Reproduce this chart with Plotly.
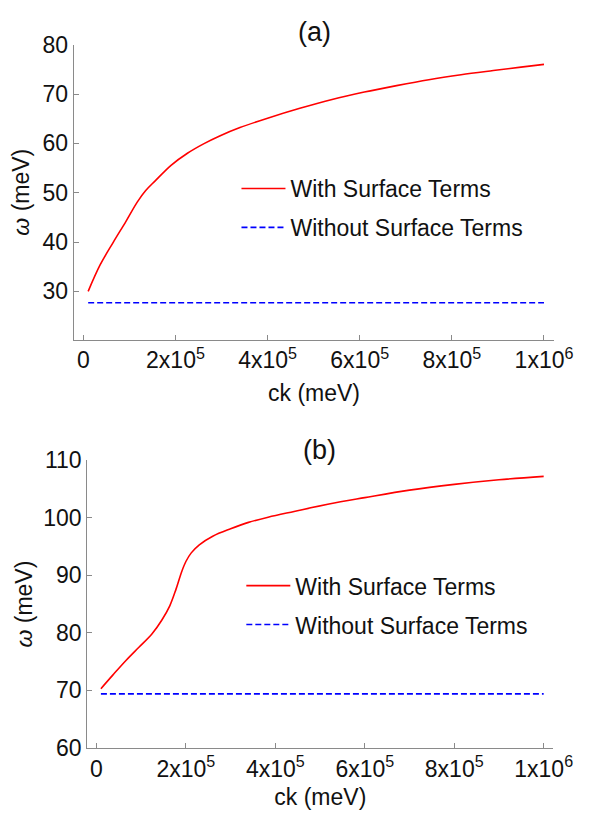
import plotly.graph_objects as go

W, H = 616, 830

# Panel (a): dispersion with / without surface terms
ck_a = [1.05e4, 3.64e4, 6.46e4, 9.26e4, 1.17e5, 1.35e5, 1.56e5, 1.91e5, 2.26e5,
        2.61e5, 2.96e5, 3.4e5, 4.0e5, 4.7e5, 5.4e5, 6.1e5, 6.8e5, 7.5e5,
        8.2e5, 8.9e5, 9.5e5, 1.0e6]
w_a = [30.0, 35.35, 39.9, 44.2, 48.1, 50.4, 52.4, 55.6, 58.0,
       59.9, 61.5, 63.2, 65.1, 67.1, 68.9, 70.4, 71.7, 72.9,
       73.9, 74.75, 75.45, 76.0]
ck_a_flat = [1.05e4, 1.0e6]
w_a_flat = [27.7, 27.7]

# Panel (b)
ck_b = [1.0e4, 3.7e4, 6.6e4, 9.5e4, 1.24e5, 1.46e5, 1.64e5, 1.78e5, 1.9e5,
        2.0e5, 2.12e5, 2.3e5, 2.6e5, 3.0e5, 3.4e5, 3.84e5, 4.42e5, 5.2e5,
        6.0e5, 7.0e5, 8.0e5, 9.0e5, 1.0e6]
w_b = [70.3, 72.7, 75.2, 77.5, 79.8, 82.2, 84.7, 87.6, 90.5,
       92.4, 93.9, 95.3, 96.8, 98.1, 99.2, 100.1, 101.1, 102.4,
       103.5, 104.8, 105.8, 106.6, 107.2]
ck_b_flat = [1.0e4, 1.0e6]
w_b_flat = [69.4, 69.4]

x_tickvals = [0, 2e5, 4e5, 6e5, 8e5, 1e6]
x_ticktext = ["0", "2x10<sup>5</sup>", "4x10<sup>5</sup>", "6x10<sup>5</sup>",
              "8x10<sup>5</sup>", "1x10<sup>6</sup>"]
ya_ticks = [30, 40, 50, 60, 70, 80]
yb_ticks = [60, 70, 80, 90, 100, 110]

label_with = "With Surface Terms"
label_without = "Without Surface Terms"

FONT = "Liberation Sans, Arial, Helvetica, sans-serif"
AXIS_GREY = "#8a8a8a"
RED = "#ff0000"
BLUE = "#0000ff"

fig = go.Figure()

fig.add_trace(go.Scatter(x=ck_a, y=w_a, mode="lines", name=label_with,
                         line=dict(color=RED, width=1.6, shape="spline", smoothing=1.0),
                         xaxis="x", yaxis="y", legend="legend", legendgroup="a1"))
fig.add_trace(go.Scatter(x=ck_a_flat, y=w_a_flat, mode="lines", name=label_without,
                         line=dict(color=BLUE, width=1.6, dash="6px,3px"),
                         xaxis="x", yaxis="y", legend="legend", legendgroup="a2"))
fig.add_trace(go.Scatter(x=ck_b, y=w_b, mode="lines", name=label_with,
                         line=dict(color=RED, width=1.6, shape="spline", smoothing=1.0),
                         xaxis="x2", yaxis="y2", legend="legend2", legendgroup="b1"))
fig.add_trace(go.Scatter(x=ck_b_flat, y=w_b_flat, mode="lines", name=label_without,
                         line=dict(color=BLUE, width=1.6, dash="6px,3px"),
                         xaxis="x2", yaxis="y2", legend="legend2", legendgroup="b2"))


def px_x(p):
    return p / W


def px_y(p):
    return 1 - p / H


common_axis = dict(showline=True, linecolor=AXIS_GREY, linewidth=1,
                   ticks="inside", ticklen=5, tickcolor=AXIS_GREY, tickwidth=1,
                   showgrid=False, zeroline=False, mirror=False,
                   tickfont=dict(family=FONT, size=23, color="#111"))

title_font = dict(family=FONT, size=23, color="#111")
legend_font = dict(family=FONT, size=23, color="#111")

fig.update_layout(
    width=W, height=H,
    margin=dict(l=0, r=0, t=0, b=0),
    paper_bgcolor="white", plot_bgcolor="white",
    font=dict(family=FONT, size=23, color="#111"),
    xaxis=dict(domain=[px_x(76), px_x(572)], anchor="y",
               range=[-2.1e4, 1.0225e6], tickvals=x_tickvals, ticktext=x_ticktext,
               title=dict(text="ck (meV)", font=title_font, standoff=12),
               **common_axis),
    yaxis=dict(domain=[px_y(337.3), px_y(32.7)], anchor="x",
               range=[20.2, 80], tickvals=ya_ticks,
               title=dict(text="<i>ω</i> (meV)", font=title_font, standoff=6),
               **common_axis),
    xaxis2=dict(domain=[px_x(90), px_x(571)], anchor="y2",
                range=[-2.06e4, 1.0217e6], tickvals=x_tickvals, ticktext=x_ticktext,
                title=dict(text="ck (meV)", font=title_font, standoff=8),
                **common_axis),
    yaxis2=dict(domain=[px_y(758.7), px_y(461.7)], anchor="x2",
                range=[60, 110], tickvals=yb_ticks,
                title=dict(text="<i>ω</i> (meV)", font=title_font, standoff=4),
                **common_axis),
    legend=dict(x=px_x(244), y=px_y(159), xanchor="left", yanchor="top",
                bgcolor="rgba(0,0,0,0)", tracegroupgap=6, itemwidth=44,
                font=legend_font),
    legend2=dict(x=px_x(249), y=px_y(569), xanchor="left", yanchor="top",
                 bgcolor="rgba(0,0,0,0)", tracegroupgap=6, itemwidth=44,
                 font=legend_font),
    annotations=[
        dict(text="(a)", x=px_x(325), y=px_y(20), xref="paper", yref="paper",
             showarrow=False, font=dict(family=FONT, size=27, color="#111"),
             xanchor="center", yanchor="middle"),
        dict(text="(b)", x=px_x(330), y=px_y(451), xref="paper", yref="paper",
             showarrow=False, font=dict(family=FONT, size=27, color="#111"),
             xanchor="center", yanchor="middle"),
    ],
)

fig.write_html("out.html")
